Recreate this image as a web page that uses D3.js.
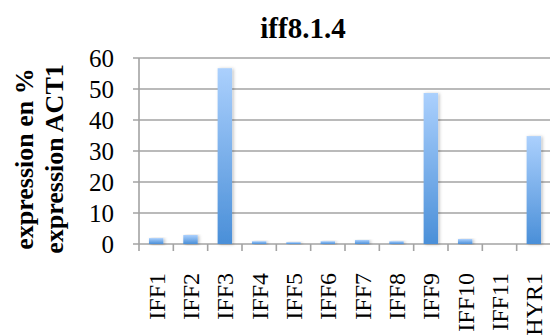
<!DOCTYPE html>
<html><head><meta charset="utf-8">
<script src="https://cdn.jsdelivr.net/npm/d3@7"></script>
<style>body{margin:0;background:#fff}svg{display:block}</style>
</head><body>
<script>
const title = "iff8.1.4";
const categories = ["IFF1","IFF2","IFF3","IFF4","IFF5","IFF6","IFF7","IFF8","IFF9","IFF10","IFF11","HYR1"];
const values = [1.9, 2.9, 56.7, 0.9, 0.6, 0.9, 1.3, 0.9, 48.7, 1.6, 0, 34.8];
const yTicks = [0, 10, 20, 30, 40, 50, 60];
const yTitleLines = ["expression en %", "expression ACT1"];

(function () {
const FONT = "'Liberation Serif', 'Times New Roman', Times, serif";
const W = 550, H = 336;
const svg = d3.select("body").append("svg").attr("width", W).attr("height", H)
  .attr("font-family", FONT);
const defs = svg.append("defs");
const g = defs.append("linearGradient").attr("id","bg").attr("x1",0).attr("y1",0).attr("x2",0).attr("y2",1);
g.append("stop").attr("offset","0%").attr("stop-color","#abd0fd");
g.append("stop").attr("offset","100%").attr("stop-color","#4a8fd8");
const f = defs.append("filter").attr("id","sh").attr("x","-50%").attr("y","-10%").attr("width","200%").attr("height","130%");
f.append("feDropShadow").attr("dx",1.5).attr("dy",0.5).attr("stdDeviation",1.5).attr("flood-color","#000").attr("flood-opacity",0.25);

const mLeft = 139, mRight = 551, mTop = 58, mBottom = 244;
const x = d3.scaleBand().domain(categories).range([mLeft, mRight]).paddingInner(0.58).paddingOuter(0.29);
const xb = d3.scaleBand().domain(categories).range([mLeft, mRight]);
const y = d3.scaleLinear().domain([0, 60]).range([mBottom, mTop]);

svg.append("g").selectAll("line").data(yTicks).join("line")
  .attr("x1", mLeft - 6).attr("x2", W).attr("y1", d => y(d)).attr("y2", d => y(d))
  .attr("stroke", "#a3a3a3").attr("stroke-width", 1.6);

svg.append("line").attr("x1", mLeft).attr("x2", mLeft).attr("y1", mTop).attr("y2", mBottom + 7)
  .attr("stroke", "#a3a3a3").attr("stroke-width", 1.6);

svg.append("g").selectAll("line").data(categories).join("line")
  .attr("x1", d => xb(d) + xb.bandwidth()).attr("x2", d => xb(d) + xb.bandwidth())
  .attr("y1", mBottom).attr("y2", mBottom + 7)
  .attr("stroke", "#a3a3a3").attr("stroke-width", 1.6);

svg.append("g").selectAll("rect").data(values).join("rect")
  .attr("x", (d,i) => x(categories[i]))
  .attr("width", x.bandwidth())
  .attr("y", d => y(d))
  .attr("height", d => mBottom - y(d))
  .attr("fill", "url(#bg)")
  .attr("filter", "url(#sh)");

svg.append("g").selectAll("text").data(yTicks).join("text")
  .attr("font-family", FONT)
  .attr("x", 114).attr("y", d => y(d)).attr("dy", "0.35em")
  .attr("text-anchor", "end").attr("font-size", 25).text(d => d);

svg.append("g").selectAll("text").data(categories).join("text")
  .attr("font-family", FONT)
  .attr("transform", d => `translate(${xb(d) + xb.bandwidth()/2},273) rotate(-90)`)
  .attr("dy", "0.35em").attr("text-anchor", "end").attr("font-size", 24).text(d => d);

svg.append("text").attr("font-family", FONT).attr("x", 303).attr("y", 38).attr("text-anchor", "middle")
  .attr("font-size", 29).attr("font-weight", "bold").text(title);

yTitleLines.forEach((t, i) => {
  svg.append("text").attr("font-family", FONT).attr("transform", `translate(${33 + i*30},159) rotate(-90)`)
    .attr("text-anchor", "middle").attr("font-size", 26).attr("font-weight", "bold").text(t);
});
})();
</script>
</body></html>
